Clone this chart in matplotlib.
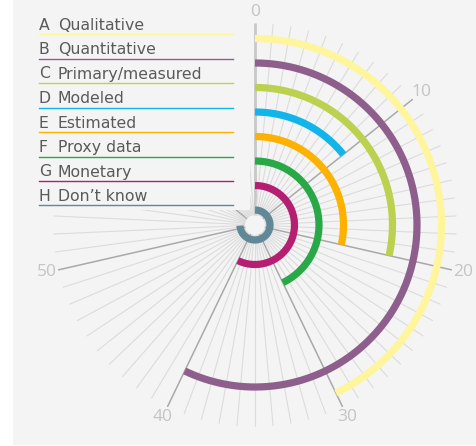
import numpy as np
import matplotlib
matplotlib.use("Agg")
import matplotlib.pyplot as plt
from matplotlib.patches import Rectangle
from matplotlib.lines import Line2D

# ── Data ──────────────────────────────────────────────────────────────────────
letters = ['A', 'B', 'C', 'D', 'E', 'F', 'G', 'H']
labels = ['Qualitative', 'Quantitative', 'Primary/measured', 'Modeled',
          'Estimated', 'Proxy data', 'Monetary', "Don\u2019t know"]
values = [30, 40, 20, 10, 20, 30, 40, 52]
colors = ['#fff59d', '#8e5f8c', '#bbd14f', '#12b5ea',
          '#fdb100', '#29a847', '#b41f72', '#628797']
scale_max = 70
tick_labels = [0, 10, 20, 30, 40, 50]

# ── Layout (pixels) ───────────────────────────────────────────────────────────
W, H = 477, 446
cx, cy = 255, 225           # centre of the dial
r_grid = 202
radii = [186.5, 162, 137.5, 113, 88.5, 64, 39.5, 15]
BG = '#f4f4f4'
TXT = '#5a5a5a'
plt.rcParams['font.family'] = ['Open Sans', 'DejaVu Sans']

fig = plt.figure(figsize=(W / 100, H / 100), dpi=100, facecolor='white')
fig.patches.append(Rectangle((13 / W, 1 / H), 1 - 13 / W, 1 - 1 / H,
                             transform=fig.transFigure, facecolor=BG,
                             edgecolor='none', zorder=-5))

ax = fig.add_axes([(cx - r_grid) / W, (H - cy - r_grid) / H,
                   2 * r_grid / W, 2 * r_grid / H], projection='polar')
ax.set_theta_zero_location('N')
ax.set_theta_direction(-1)
ax.set_ylim(0, r_grid)
ax.set_axis_off()


def ang(v):
    return v * 2 * np.pi / scale_max


# radial gridlines
for i in range(scale_max):
    major = i % 10 == 0
    ax.plot([ang(i), ang(i)], [10, r_grid],
            color='#c8c8c8' if i == 0 else ('#a9a9a9' if major else '#dcdcdc'),
            lw=2.0 if i == 0 else (1.1 if major else 0.8), zorder=1,
            solid_capstyle='butt')

for t in tick_labels:
    ax.text(ang(t), 213, str(t), ha='center', va='center', fontsize=12.5,
            color='#c4c4c4', clip_on=False, zorder=3)

# box behind the legend hides the upper-left part of the grid
ax.add_artist(Rectangle((13 / W, (H - 210) / H), (250 - 13) / W, 210 / H,
                        transform=fig.transFigure, facecolor=BG,
                        edgecolor='none', zorder=1.5, clip_on=False))

# arcs
for v, r, c in zip(values, radii, colors):
    th = np.linspace(0, ang(v), 300)
    ax.plot(th, np.full_like(th, r), color=c, lw=5.2,
            solid_capstyle='butt', zorder=2)

# legend rows, lined up with the arcs
for k, (l, lab, r, c) in enumerate(zip(letters, labels, radii, colors)):
    y_line = cy - r - 4.5
    fig.add_artist(Line2D([39 / W, 233 / W], [1 - y_line / H] * 2,
                          transform=fig.transFigure, color=c, lw=1.0,
                          zorder=3))
    for x0, s in ((39, l), (58, lab)):
        fig.text(x0 / W, 1 - (y_line - 4.5) / H, s, fontsize=11.3,
                 family='DejaVu Sans', color=TXT,
                 ha='left', va='baseline', zorder=4)

fig.savefig('out.png', dpi=100, facecolor='white')
